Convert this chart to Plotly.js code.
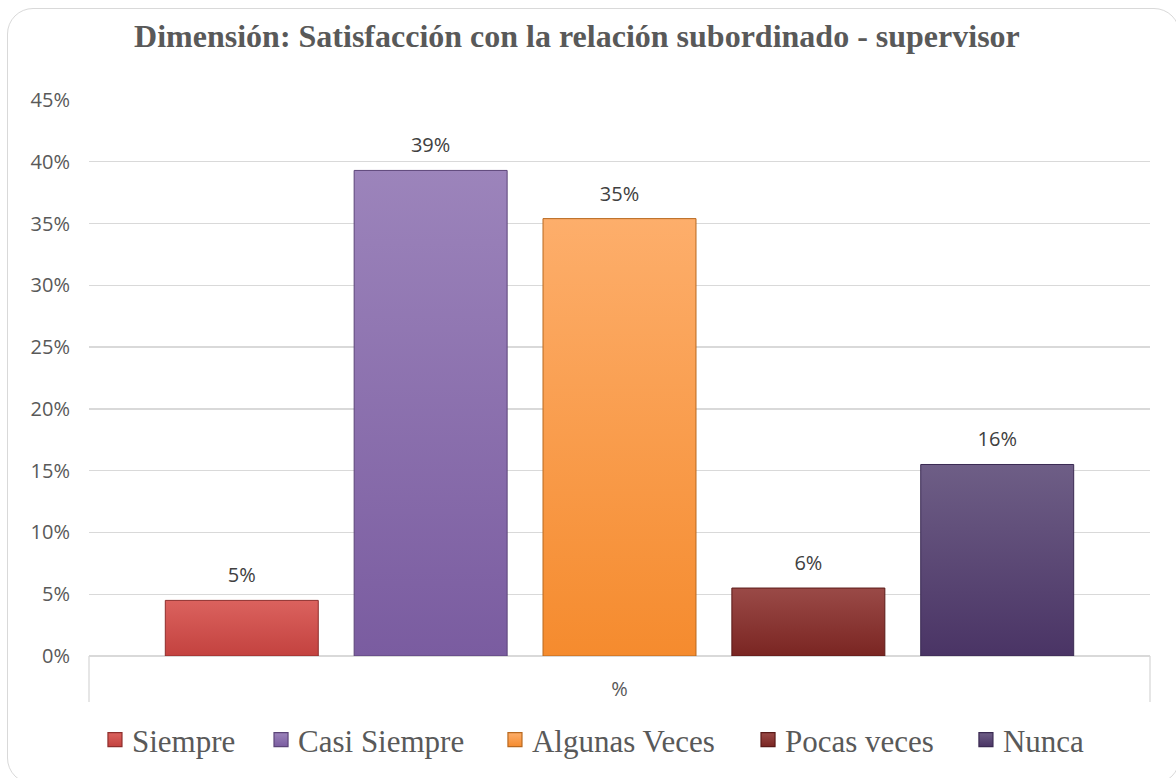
<!DOCTYPE html>
<html>
<head>
<meta charset="utf-8">
<script src="https://cdn.plot.ly/plotly-3.0.1.min.js"></script>
<style>
  html, body { margin: 0; padding: 0; background: #ffffff; overflow: hidden; }
  #wrap { position: relative; width: 1176px; height: 778px; overflow: hidden; }
  #chart { position: absolute; left: 0; top: 0; width: 1176px; height: 778px; }
  #frame { position: absolute; left: 7px; top: 8px; width: 1173px; height: 776px;
           box-sizing: border-box; border: 1.6px solid #d9d9d9; border-radius: 26px;
           pointer-events: none; }
</style>
</head>
<body>
<div id="wrap">
  <div id="chart"></div>
  <div id="frame"></div>
</div>
<script>
// ---- data ----
const categories = ['%'];
const seriesNames = ['Siempre', 'Casi Siempre', 'Algunas Veces', 'Pocas veces', 'Nunca'];
const seriesValues = [4.5, 39.3, 35.4, 5.5, 15.5];
const valueLabels = ['5%', '39%', '35%', '6%', '16%'];
const chartTitle = 'Dimensión: Satisfacción con la relación subordinado - supervisor';

// ---- styles ----
const fillColors = ['#CE4E4B', '#876CAA', '#F99E50', '#84302E', '#5A4676'];
const gradTop    = ['#DB625E', '#9C84BB', '#FDAE6B', '#9A4A47', '#6E5E86'];
const gradBottom = ['#C3423F', '#7A5CA0', '#F58B2E', '#7A2522', '#4A3465'];
const lineColors = ['#8E2E2C', '#5B4478', '#B8681F', '#5A1A18', '#3A2A52'];
const legendX    = [0.0028, 0.1593, 0.3798, 0.6183, 0.8237];
const legendIds  = ['legend', 'legend2', 'legend3', 'legend4', 'legend5'];

const traces = seriesNames.map((name, i) => ({
  type: 'bar',
  name: name,
  x: categories,
  y: [seriesValues[i]],
  text: [valueLabels[i]],
  textposition: 'outside',
  cliponaxis: false,
  legend: legendIds[i],
  textfont: { family: 'Open Sans, sans-serif', size: 20, color: '#404040' },
  marker: { color: fillColors[i], line: { color: lineColors[i], width: 1 } },
  hoverinfo: 'skip'
}));

const layout = {
  width: 1176,
  height: 778,
  margin: { l: 89, r: 26, t: 100, b: 121 },
  paper_bgcolor: 'rgba(0,0,0,0)',
  plot_bgcolor: 'rgba(0,0,0,0)',
  barmode: 'group',
  bargap: 0.11,
  bargroupgap: 0.19,
  showlegend: true,
  title: {
    text: '<b>' + chartTitle + '</b>',
    font: { family: 'Liberation Serif, Times New Roman, serif', size: 32, color: '#595959' },
    x: 0.4906, xanchor: 'center', xref: 'container',
    y: 0.954, yanchor: 'middle', yref: 'container'
  },
  xaxis: {
    type: 'category',
    showgrid: false,
    showline: true,
    linecolor: '#d9d9d9',
    linewidth: 1.3,
    ticks: '',
    ticklabelstandoff: 15,
    tickfont: { family: 'Open Sans, sans-serif', size: 20, color: '#595959' },
    fixedrange: true
  },
  yaxis: {
    range: [0, 45],
    dtick: 5,
    tick0: 0,
    ticksuffix: '%',
    showgrid: true,
    gridcolor: '#d9d9d9',
    gridwidth: 1.3,
    zeroline: true,
    zerolinecolor: '#d9d9d9',
    zerolinewidth: 1.3,
    showline: false,
    ticks: '',
    ticklabelstandoff: 18,
    tickfont: { family: 'Open Sans, sans-serif', size: 20, color: '#595959' },
    fixedrange: true
  },
  shapes: [
    { type: 'line', xref: 'paper', yref: 'paper', x0: 0, x1: 0, y0: 0, y1: -0.0826,
      line: { color: '#d9d9d9', width: 1.3 } },
    { type: 'line', xref: 'paper', yref: 'paper', x0: 1, x1: 1, y0: 0, y1: -0.0826,
      line: { color: '#d9d9d9', width: 1.3 } }
  ]
};

legendIds.forEach((id, i) => {
  layout[id] = {
    orientation: 'h',
    x: legendX[i], xanchor: 'left',
    y: -0.149, yanchor: 'middle',
    font: { family: 'Liberation Serif, Times New Roman, serif', size: 31, color: '#595959' },
    bgcolor: 'rgba(0,0,0,0)',
    borderwidth: 0
  };
});

Plotly.newPlot('chart', traces, layout, { staticPlot: true, displayModeBar: false }).then(gd => {
  const NS = 'http://www.w3.org/2000/svg';
  const svg = gd.querySelector('svg.main-svg');
  let defs = svg.querySelector('defs');
  if (!defs) { defs = document.createElementNS(NS, 'defs'); svg.insertBefore(defs, svg.firstChild); }
  seriesNames.forEach((_, i) => {
    const g = document.createElementNS(NS, 'linearGradient');
    g.setAttribute('id', 'barGrad' + i);
    g.setAttribute('x1', '0'); g.setAttribute('y1', '0');
    g.setAttribute('x2', '0'); g.setAttribute('y2', '1');
    [[0, gradTop[i]], [1, gradBottom[i]]].forEach(([o, c]) => {
      const s = document.createElementNS(NS, 'stop');
      s.setAttribute('offset', o);
      s.setAttribute('stop-color', c);
      g.appendChild(s);
    });
    defs.appendChild(g);
  });
  gd.querySelectorAll('.barlayer .trace').forEach((tr, i) => {
    tr.querySelectorAll('path').forEach(p => { p.style.fill = 'url(#barGrad' + i + ')'; });
    tr.querySelectorAll('text.bartext').forEach(t => {
      const tf = t.getAttribute('transform') || '';
      t.setAttribute('transform', 'translate(0,-9) ' + tf);
    });
  });
  gd.querySelectorAll('.legendpoints path').forEach((p, i) => {
    if (i < seriesNames.length) {
      p.style.fill = 'url(#barGrad' + i + ')';
      const tf = p.getAttribute('transform') || '';
      p.setAttribute('transform', tf + ' translate(3,0) scale(1.17)');
    }
  });
});
</script>
</body>
</html>
